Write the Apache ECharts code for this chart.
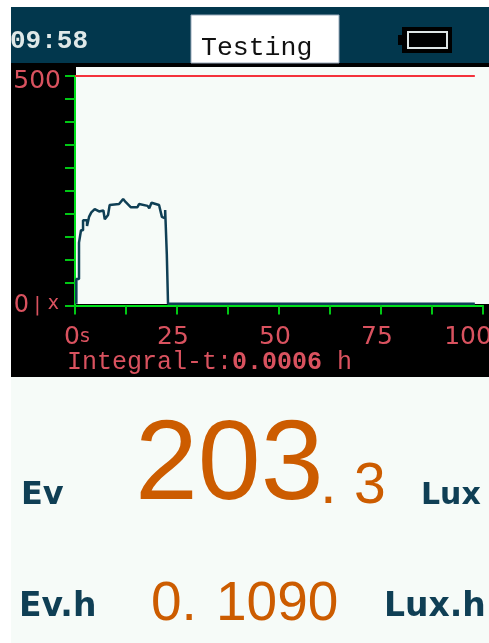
<!DOCTYPE html>
<html><head><meta charset="utf-8">
<style>html,body{margin:0;padding:0;background:#fff}#c{width:489px;height:643px}</style>
<script src="https://cdn.jsdelivr.net/npm/echarts@6/dist/echarts.min.js"></script>
</head><body><div id="c"></div>
<script>
const traceTimes = [0.33,0.33,0.98,0.98,1.47,1.47,1.97,1.97,2.95,2.95,3.44,3.44,4.0,4.83,5.9,6.96,7.3,8.1,8.5,10.8,11.8,12.45,13.7,15.3,15.7,17.8,18.2,18.75,20.6,21.3,22.1,22.1,22.5,22.8,22.8,98];
const traceValues = [4,58,58,137,137,164,164,186,186,173,173,193,203,210,205,207,188,197,219,221,232,225,214,214,221,217,212,224,219,193,190,208,112,112,4,4];
const limitTimes = [0,98];
const limitValues = [500,500];
const yTopLabel = '500';

const pink='#d9525f', green='#00e01a', navy='#0f3f55', orange='#cc5c00';
const MONO='"Liberation Mono"', SANS='"DejaVu Sans"', ARIAL='"Liberation Sans"';
const chart=echarts.init(document.getElementById('c'),null,{renderer:'canvas',width:489,height:643});
const T=(x,base,text,size,weight,family,fill)=>({type:'text',x,y:base-size*0.35,z:5,style:{text,font:weight+' '+size+'px '+family,fill,verticalAlign:'middle'}});
const R=(x,y,w,h,fill,z,stroke,lw)=>({type:'rect',shape:{x,y,width:w,height:h},z:z,style:{fill,stroke,lineWidth:lw||0}});
chart.setOption({
  animation:false,
  backgroundColor:'#fff',
  grid:{left:75,top:76,width:408,height:229.5,containLabel:false,outerBoundsMode:'none'},
  xAxis:{type:'value',min:0,max:100,interval:12.5,
    axisLine:{lineStyle:{color:green,width:2},onZero:false},
    axisTick:{length:9,lineStyle:{color:'#00c814',width:2}},
    splitLine:{show:false},
    axisLabel:{margin:19,showMinLabel:true,showMaxLabel:true,hideOverlap:false,
      formatter:v=>v===0?'{f|0}{s|s}':v===100?'{l|100}':(v%25===0?'{m|'+v+'}':''),
      rich:{f:{fontFamily:SANS,fontSize:25,color:pink,padding:[0,0,0,4]},
            s:{fontFamily:SANS,fontSize:19,color:pink},
            m:{fontFamily:SANS,fontSize:25,color:pink,padding:[0,8,0,0]},
            l:{fontFamily:SANS,fontSize:25,color:pink,padding:[0,30,0,0]}}}},
  yAxis:{type:'value',min:0,max:500,interval:50,
    axisLine:{show:true,lineStyle:{color:green,width:2}},
    axisTick:{show:true,length:10,lineStyle:{color:'#00c814',width:2}},
    splitLine:{show:false},
    axisLabel:{margin:14,hideOverlap:false,
      formatter:v=>v===500?'{t|'+yTopLabel+'}':v===0?'{z|0}{b||}{u|x}':'',
      rich:{t:{fontFamily:SANS,fontSize:25,color:pink,padding:[10,0,0,0]},
            z:{fontFamily:SANS,fontSize:24,color:pink},
            b:{fontFamily:SANS,fontSize:20,color:pink,padding:[0,0,0,5]},
            u:{fontFamily:SANS,fontSize:19,color:pink,padding:[0,2,2,7]}}}},
  series:[
    {type:'line',name:'Limit',data:limitTimes.map((t,i)=>[t,limitValues[i]]),symbol:'none',clip:false,z:4,lineStyle:{color:'#f4333c',width:2}},
    {type:'line',name:'Illuminance',data:traceTimes.map((t,i)=>[t,traceValues[i]]),symbol:'none',clip:false,z:4,lineStyle:{color:navy,width:2.5}}
  ],
  graphic:{elements:[
    R(11,7,478,636,'#f6fbf8',-30),
    R(11,7,478,56,'#02374d',-29),
    R(11,63,478,314,'#000',-29),
    R(76,67,413,237,'#f6fbf8',-28),
    R(191,15,148,48,'#fff',-27,'#9ab',1),
    R(398,35,5,10,'#000',1),
    R(402,27,50,26,'#000',1),
    R(408,32,39,16,'#000',2,'#dfe6e6',2),
    T(10,51,'09:58',26,'bold',MONO,'#dfe8e8'),
    R(0,0,11,643,'#fff',6),
    T(201,57,'Testing',26.5,'normal',MONO,'#111'),
    T(67,371,'Integral-t:',25,'normal',MONO,pink),
    T(232,371,'0.0006',25,'bold',MONO,pink),
    T(337,371,'h',25,'normal',MONO,pink),
    T(21,507,'Ev',32,'bold',SANS,navy),
    T(421,507,'Lux',30,'bold',SANS,navy),
    T(19,619,'Ev.h',33,'bold',SANS,navy),
    T(384,619,'Lux.h',33,'bold',SANS,navy),
    T(135,507,'203',113,'normal',ARIAL,orange),
    T(320,507,'.',60,'normal',ARIAL,orange),
    T(354,507,'3',57,'normal',ARIAL,orange),
    T(151,624,'0.',55,'normal',ARIAL,orange),
    T(216,624,'1090',55,'normal',ARIAL,orange)
  ]}
});
</script></body></html>
